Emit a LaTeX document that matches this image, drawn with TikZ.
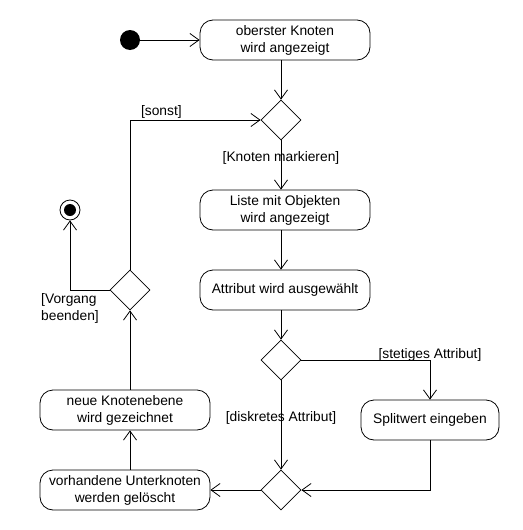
\documentclass[tikz,border=0pt]{standalone}
\usepackage{fontspec}
\setmainfont{Liberation Sans}
\usetikzlibrary{arrows.meta, shapes.geometric, positioning}

\tikzset{
  aktion/.style={draw, line width=0.8pt, rounded corners=13pt, minimum width=170pt,
    minimum height=40pt, inner sep=0pt, align=center, font=\fontsize{13.8}{17}\selectfont},
  entscheidung/.style={draw, line width=0.8pt, diamond, minimum width=40pt,
    minimum height=40pt, inner sep=0pt},
  waechter/.style={inner sep=1pt, font=\fontsize{13.8}{17}\selectfont},
  pfeil/.style={line width=0.8pt, -{Straight Barb[length=9pt, width=13pt]}}
}

\begin{document}
\begin{tikzpicture}[x=1pt, y=-1pt]
\useasboundingbox (0,0) rectangle (522,530);

% Start und Ende
\node[circle, fill=black, minimum size=20pt, inner sep=0pt] (start) at (130,40) {};
\node[circle, draw, line width=0.8pt, minimum size=20pt, inner sep=0pt] (ende) at (70,210) {};
\fill (ende.center) circle (6pt);

% Aktionen rechts
\node[aktion] (oberster) at (285,40) {oberster Knoten\\ wird angezeigt};
\node[aktion] (liste) at (285,210) {Liste mit Objekten\\ wird angezeigt};
\node[aktion] (attribut) at (285,290) {Attribut wird ausgewählt};
\node[aktion, minimum width=138pt] (split) at (430,420) {Splitwert eingeben};

% Aktionen links
\node[aktion] (neueebene) at (125,410) {neue Knotenebene\\ wird gezeichnet};
\node[aktion] (loeschen) at (125,490) {vorhandene Unterknoten\\ werden gelöscht};

% Verzweigungen
\node[entscheidung] (markiert) at (281,120) {};
\node[entscheidung] (beenden) at (130,290) {};
\node[entscheidung] (typ) at (281,360) {};
\node[entscheidung] (zusammen) at (281,490) {};

% Kanten
\draw[pfeil] (start) -- (oberster);
\draw[pfeil] (markiert.north |- oberster.south) -- (markiert.north);
\draw[pfeil] (markiert.south) -- node[waechter, pos=0.35] {[Knoten markieren]} (markiert.south |- liste.north);
\draw[pfeil] (markiert.south |- liste.south) -- (markiert.south |- attribut.north);
\draw[pfeil] (typ.north |- attribut.south) -- (typ.north);
\draw[pfeil] (typ.east) -| node[waechter, pos=0.5, above, yshift=-3pt] {[stetiges Attribut]} (split.north);
\draw[pfeil] (typ.south) -- node[waechter, pos=0.42] {[diskretes Attribut]} (zusammen.north);
\draw[pfeil] (split.south) |- (zusammen.east);
\draw[pfeil] (zusammen.west) -- (zusammen.west -| loeschen.east);
\draw[pfeil] (beenden.south |- loeschen.north) -- (beenden.south |- neueebene.south);
\draw[pfeil] (beenden.south |- neueebene.north) -- (beenden.south);
\draw[pfeil] (beenden.west) -| node[waechter, pos=0.5, below, align=left, yshift=-2pt] {[Vorgang\\beenden]} (ende.south);
\draw[pfeil] (beenden.north) |- node[waechter, pos=0.62, above] {[sonst]} (markiert.west);
\end{tikzpicture}
\end{document}
